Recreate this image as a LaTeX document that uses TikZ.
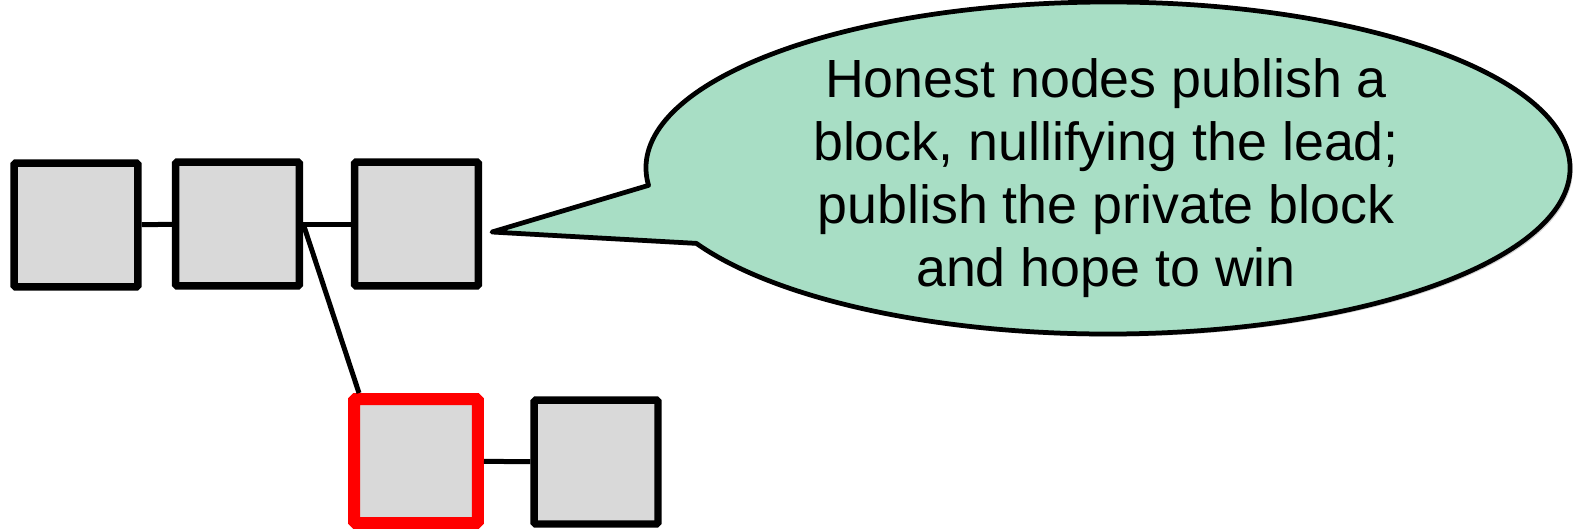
\documentclass[tikz,border=0pt]{standalone}
\usepackage{fontspec}
\setmainfont{Liberation Sans}
\usepackage{xcolor}
\usepackage{tikz}
\usetikzlibrary{positioning,calc,shadows}

\definecolor{blockgray}{HTML}{D9D9D9}
\definecolor{bubblegreen}{HTML}{A8DEC5}

\begin{document}
\begin{tikzpicture}[
  x=0.02cm, y=0.02cm,
  blk/.style={draw, line width=0.15cm, fill=blockgray, rounded corners=1pt, minimum size=2.48cm, inner sep=0pt},
  priv/.style={blk, draw=red, line width=0.24cm},
  link/.style={line width=0.1cm},
  bubble/.style={draw, line width=0.095cm, fill=bubblegreen, line join=round,
    drop shadow={shadow xshift=1.5pt, shadow yshift=-1.5pt, opacity=0.35}},
  say/.style={font=\fontsize{30.6}{36}\selectfont, align=center}
]
\useasboundingbox (0,0) rectangle (1577,-528);

\node[blk]  (b1) at (76,-225)  {};
\node[blk]  (b2) at (237.5,-224) {};
\node[blk]  (b3) at (416.5,-224) {};
\node[priv] (b4) at (416,-461) {};
\node[blk]  (b5) at (596,-462) {};

\draw[link] (b1) -- (b2);
\draw[link] (b2) -- (b3);
\draw[link] (b2.east) -- ([xshift=0.22cm]b4.north west);
\draw[link] (b4) -- (b5);

% speech bubble
\coordinate (tip) at (492,-232);
\coordinate (mid) at (1108,-168);
\draw[bubble] (tip) -- ($(mid)+(186:462 and 166)$)
  arc[start angle=186, end angle=-153, x radius=462, y radius=166] -- cycle;
\node[say] (note) at (1106,-178) {Honest nodes publish a\\block, nullifying the lead;\\publish the private block\\and hope to win};

\end{tikzpicture}
\end{document}
